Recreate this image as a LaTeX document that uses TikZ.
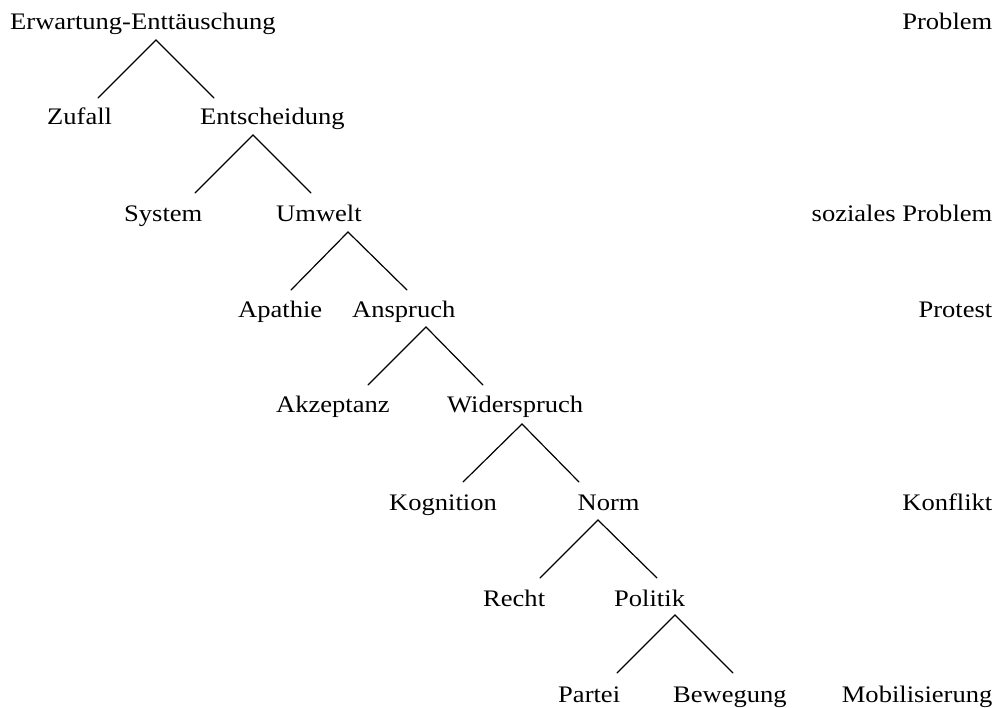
\documentclass[tikz,border=0pt]{standalone}
\usepackage{fontspec}
\setmainfont[FakeStretch=1.12]{Liberation Serif}
\begin{document}
\begin{tikzpicture}[x=1pt,y=-1pt,
  lbl/.style={inner sep=0pt,anchor=base west,font=\fontsize{23.7}{28}\selectfont},
  rlbl/.style={inner sep=0pt,anchor=base east,font=\fontsize{23.7}{28}\selectfont},
  edge/.style={line width=1.2pt,line cap=round,line join=miter}]
\useasboundingbox (0,0) rectangle (996,708);
% tree labels
\node[lbl] (ee) at (10,30) {Erwartung-Enttäuschung};
\node[lbl] (zuf) at (47,125) {Zufall};
\node[lbl] (ent) at (200,125) {Entscheidung};
\node[lbl] (sys) at (124,222) {System};
\node[lbl] (umw) at (276,222) {Umwelt};
\node[lbl] (apa) at (238,318) {Apathie};
\node[lbl] (ans) at (352,318) {Anspruch};
\node[lbl] (akz) at (276,413) {Akzeptanz};
\node[lbl] (wid) at (447,413) {Widerspruch};
\node[lbl] (kog) at (389,510) {Kognition};
\node[lbl] (nrm) at (577.5,510) {Norm};
\node[lbl] (rec) at (483,606) {Recht};
\node[lbl] (pol) at (614,606) {Politik};
\node[lbl] (par) at (558,702) {Partei};
\node[lbl] (bew) at (673,702) {Bewegung};
% right column
\node[rlbl] (r1) at (992.5,30) {Problem};
\node[rlbl] (r2) at (992.5,222) {soziales Problem};
\node[rlbl] (r3) at (992.5,318) {Protest};
\node[rlbl] (r4) at (992.5,510) {Konflikt};
\node[rlbl] (r5) at (992.5,702) {Mobilisierung};
% fork coordinates
\coordinate (t1) at (156,40);  \coordinate (l1) at (98,98);   \coordinate (q1) at (214,98);
\coordinate (t2) at (253,135); \coordinate (l2) at (195,193); \coordinate (q2) at (311,193);
\coordinate (t3) at (348,232); \coordinate (l3) at (291,290); \coordinate (q3) at (407,290);
\coordinate (t4) at (426,327); \coordinate (l4) at (368,385); \coordinate (q4) at (483,385);
\coordinate (t5) at (522,424); \coordinate (l5) at (463,482); \coordinate (q5) at (579,482);
\coordinate (t6) at (598,520); \coordinate (l6) at (540,578); \coordinate (q6) at (657,578);
\coordinate (t7) at (675,615); \coordinate (l7) at (617,673); \coordinate (q7) at (733,673);
\foreach \i in {1,...,7}{
  \draw[edge] (l\i) -- (t\i) -- (q\i);
}
\end{tikzpicture}
\end{document}
